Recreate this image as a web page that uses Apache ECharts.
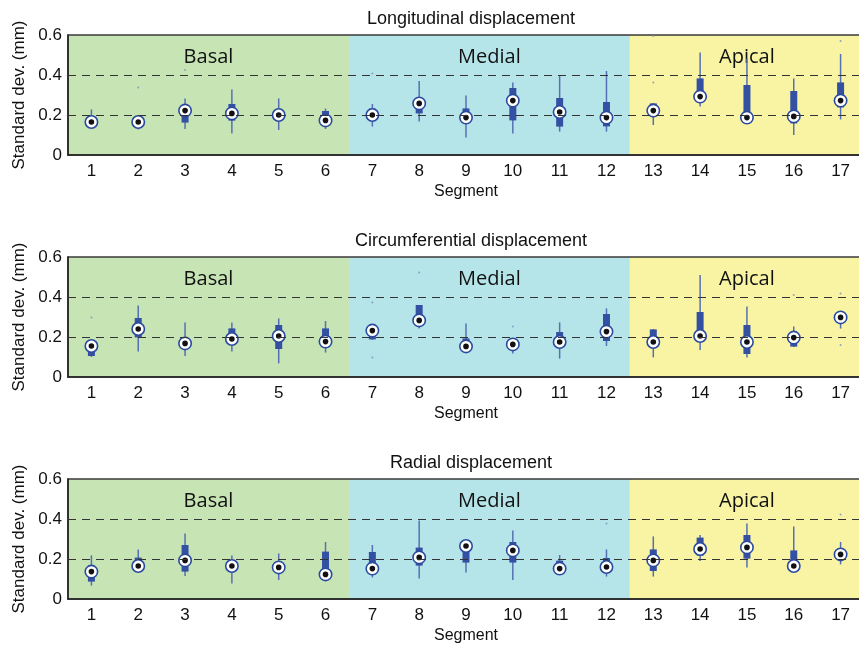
<!DOCTYPE html>
<html>
<head>
<meta charset="utf-8">
<script src="https://cdn.jsdelivr.net/npm/echarts@6/dist/echarts.min.js"></script>
<style>
  html, body { margin: 0; padding: 0; background: #fff; }
  #chart { width: 859px; height: 646px; }
</style>
</head>
<body>
<div id="chart"></div>
<script>
// Segment categories and heart regions
const segments = ['1','2','3','4','5','6','7','8','9','10','11','12','13','14','15','16','17'];
const regionNames = ['Basal', 'Medial', 'Apical'];
const regionFirst = [0, 6, 12];
const regionLast = [5, 11, 16];
const regionColors = ['#c6e4b4', '#b6e5e9', '#f8f4a3'];
const panelTitles = ['Longitudinal displacement', 'Circumferential displacement', 'Radial displacement'];
const refLines = [0.2, 0.4];

// Longitudinal: whisker low, box low, box high, whisker high, marker
const longLow    = [0.140,0.128,0.130,0.108,0.125,0.130,0.142,0.167,0.088,0.108,0.117,0.117,0.150,0.242,0.175,0.100,0.178];
const longQ1     = [0.155,0.155,0.162,0.172,0.185,0.160,0.182,0.208,0.170,0.173,0.142,0.143,0.200,0.270,0.180,0.158,0.238];
const longQ3     = [0.180,0.175,0.238,0.255,0.215,0.220,0.232,0.270,0.233,0.335,0.285,0.265,0.258,0.383,0.350,0.320,0.363];
const longHigh   = [0.228,0.185,0.283,0.328,0.283,0.232,0.255,0.370,0.298,0.363,0.400,0.420,0.260,0.513,0.483,0.383,0.505];
const longMarker = [0.165,0.165,0.222,0.208,0.200,0.173,0.200,0.258,0.187,0.272,0.215,0.187,0.222,0.292,0.187,0.193,0.272];
const longOutliers = [[1,0.337],[2,0.425],[6,0.408],[12,0.363],[12,0.595],[16,0.570]];

// Circumferential
const circLow    = [0.100,0.127,0.105,0.127,0.068,0.122,0.185,0.242,0.125,0.118,0.092,0.155,0.098,0.135,0.098,0.150,0.242];
const circQ1     = [0.105,0.198,0.150,0.165,0.140,0.165,0.188,0.260,0.140,0.145,0.150,0.180,0.150,0.180,0.115,0.152,0.270];
const circQ3     = [0.150,0.295,0.190,0.243,0.260,0.243,0.245,0.360,0.193,0.175,0.225,0.315,0.238,0.325,0.260,0.200,0.310];
const circHigh   = [0.160,0.358,0.273,0.273,0.293,0.280,0.250,0.360,0.268,0.180,0.273,0.343,0.240,0.510,0.352,0.252,0.310];
const circMarker = [0.155,0.240,0.168,0.190,0.205,0.177,0.232,0.283,0.153,0.163,0.175,0.227,0.175,0.205,0.175,0.197,0.298];
const circOutliers = [[0,0.297],[6,0.373],[6,0.097],[7,0.523],[9,0.253],[15,0.410],[16,0.418],[16,0.160]];

// Radial
const radLow    = [0.067,0.150,0.115,0.078,0.095,0.100,0.108,0.102,0.132,0.095,0.140,0.112,0.112,0.190,0.158,0.140,0.173];
const radQ1     = [0.087,0.160,0.137,0.150,0.140,0.110,0.140,0.167,0.182,0.182,0.140,0.140,0.140,0.217,0.202,0.150,0.200];
const radQ3     = [0.150,0.207,0.270,0.180,0.175,0.237,0.235,0.257,0.280,0.285,0.192,0.205,0.248,0.307,0.320,0.243,0.240];
const radHigh   = [0.218,0.248,0.328,0.218,0.228,0.285,0.270,0.392,0.290,0.342,0.220,0.248,0.313,0.320,0.378,0.363,0.285];
const radMarker = [0.137,0.165,0.193,0.165,0.158,0.123,0.152,0.208,0.265,0.243,0.152,0.160,0.193,0.250,0.258,0.165,0.223];
const radOutliers = [[11,0.378],[16,0.423]];

const panels = [
  { low: longLow, q1: longQ1, q3: longQ3, high: longHigh, marker: longMarker, outliers: longOutliers },
  { low: circLow, q1: circQ1, q3: circQ3, high: circHigh, marker: circMarker, outliers: circOutliers },
  { low: radLow,  q1: radQ1,  q3: radQ3,  high: radHigh,  marker: radMarker,  outliers: radOutliers }
];

const gridTops = [35, 257, 479];
const labelFont = 'Liberation Sans, Arial, sans-serif';

const chart = echarts.init(document.getElementById('chart'), null, { renderer: 'canvas' });

const grids = [], xAxes = [], yAxes = [], series = [], titles = [];

panels.forEach((p, i) => {
  grids.push({ left: 68, top: gridTops[i], height: 120, width: 796,
    outerBoundsMode: 'none', containLabel: false,
    show: true, borderColor: '#3a3a3a', borderWidth: 1.5 });
  titles.push({ text: panelTitles[i], left: 466, top: gridTops[i] - 30, textAlign: 'center',
    textStyle: { fontFamily: labelFont, fontSize: 18, fontWeight: 'normal', color: '#111' } });
  xAxes.push({ type: 'category', gridIndex: i, data: segments, boundaryGap: true,
    axisLine: { lineStyle: { color: '#222', width: 1.5 } }, axisTick: { show: false },
    axisLabel: { color: '#111', fontSize: 17, fontFamily: labelFont, margin: 8 },
    name: 'Segment', nameLocation: 'middle', nameGap: 29,
    nameTextStyle: { color: '#111', fontSize: 16, fontFamily: labelFont },
    splitLine: { show: false }, z: 3 });
  yAxes.push({ type: 'value', gridIndex: i, min: 0, max: 0.6, interval: 0.2,
    axisLine: { show: true, lineStyle: { color: '#222', width: 1.5 } }, axisTick: { show: false },
    axisLabel: { color: '#111', fontSize: 17, fontFamily: labelFont, margin: 6 },
    splitLine: { show: false },
    name: 'Standard dev. (mm)', nameLocation: 'middle', nameGap: 40,
    nameTextStyle: { color: '#111', fontSize: 17, fontFamily: labelFont }, z: 3 });

  // Region backgrounds with their names
  series.push({
    type: 'custom', xAxisIndex: i, yAxisIndex: i, z: -1, silent: true,
    data: regionNames.map((n, k) => [regionFirst[k], regionLast[k], k]),
    renderItem: function (params, api) {
      const k = api.value(2);
      const bw = api.size([1, 0])[0];
      const tl = api.coord([api.value(0), 0.6]);
      const br = api.coord([api.value(1), 0]);
      const x0 = tl[0] - bw / 2, x1 = br[0] + bw / 2;
      return { type: 'group', children: [
        { type: 'rect', shape: { x: x0, y: tl[1], width: x1 - x0, height: br[1] - tl[1] },
          style: { fill: regionColors[k] } },
        { type: 'text', style: { x: (x0 + x1) / 2, y: tl[1] + 22, text: regionNames[k],
          fill: '#111', font: '20px "Open Sans", sans-serif', align: 'center', verticalAlign: 'middle' } }
      ] };
    }
  });

  // Stray single measurements
  series.push({
    type: 'scatter', xAxisIndex: i, yAxisIndex: i, z: 2, silent: true,
    symbolSize: 2, itemStyle: { color: '#7d8fc0' },
    data: p.outliers
  });

  // Whiskers, boxes and markers per segment
  series.push({
    type: 'custom', xAxisIndex: i, yAxisIndex: i, z: 4,
    encode: { x: 0, y: [1, 2, 3, 4, 5] },
    data: segments.map((s, j) => [j, p.low[j], p.q1[j], p.q3[j], p.high[j], p.marker[j]]),
    renderItem: function (params, api) {
      const j = api.value(0);
      const lo = api.coord([j, api.value(1)]);
      const b1 = api.coord([j, api.value(2)]);
      const b3 = api.coord([j, api.value(3)]);
      const hi = api.coord([j, api.value(4)]);
      const m = api.coord([j, api.value(5)]);
      const x = lo[0];
      return { type: 'group', children: [
        { type: 'line', shape: { x1: x, y1: lo[1], x2: x, y2: hi[1] },
          style: { stroke: '#5670b3', lineWidth: 1.5 } },
        { type: 'rect', shape: { x: x - 3.5, y: b3[1], width: 7, height: b1[1] - b3[1] },
          style: { fill: '#3450a3' } },
        { type: 'circle', shape: { cx: x, cy: m[1], r: 6.2 },
          style: { fill: '#fff', stroke: '#2b4a9e', lineWidth: 1.6 } },
        { type: 'circle', shape: { cx: x, cy: m[1], r: 2.8 }, style: { fill: '#111' } }
      ] };
    },
    markLine: {
      silent: true, symbol: 'none', label: { show: false },
      lineStyle: { color: '#333', width: 1.2, type: [8, 6] },
      data: refLines.map(v => ({ yAxis: v }))
    }
  });
});

chart.setOption({
  animation: false,
  title: titles,
  grid: grids,
  xAxis: xAxes,
  yAxis: yAxes,
  series: series
});
</script>
</body>
</html>
